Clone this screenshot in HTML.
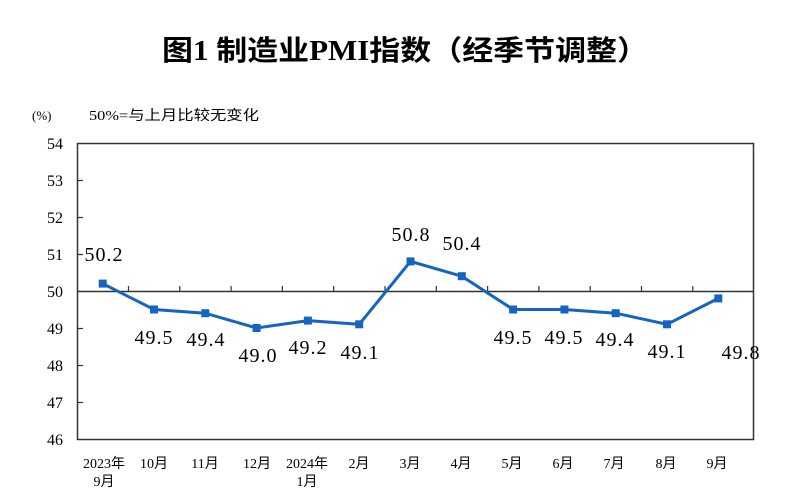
<!DOCTYPE html>
<html><head><meta charset="utf-8"><style>
html,body{margin:0;padding:0;background:#fff;}
svg{display:block;}
</style></head><body>
<svg width="800" height="504" xmlns="http://www.w3.org/2000/svg">
<rect width="800" height="504" fill="#fff"/>
<text x="162" y="60" font-family="'Liberation Serif','Noto Sans CJK SC',serif" font-weight="bold" font-size="28" textLength="486" lengthAdjust="spacingAndGlyphs" fill="#000">图1 制造业PMI指数（经季节调整）</text>
<text x="32" y="120" font-family="'Liberation Serif','Noto Sans CJK SC',serif" font-size="13" fill="#000">(%)</text>
<text x="89" y="120" font-family="'Liberation Serif','Noto Sans CJK SC',serif" font-size="14" textLength="170" lengthAdjust="spacingAndGlyphs" fill="#000">50%=与上月比较无变化</text>
<g font-family="'Liberation Serif',serif" font-size="16" fill="#000" text-anchor="end">
<text x="63" y="149">54</text><text x="63" y="186">53</text><text x="63" y="223">52</text><text x="63" y="260">51</text><text x="63" y="297">50</text><text x="63" y="334">49</text><text x="63" y="371">48</text><text x="63" y="408">47</text><text x="63" y="445">46</text>
</g>
<rect x="77.5" y="143.5" width="676" height="296" fill="none" stroke="#333" stroke-width="1.5"/>
<line x1="77.5" y1="291.5" x2="753.5" y2="291.5" stroke="#333" stroke-width="1.5"/>
<g stroke="#333" stroke-width="1.2">
<line x1="77.5" y1="180.5" x2="83" y2="180.5"/><line x1="77.5" y1="217.5" x2="83" y2="217.5"/><line x1="77.5" y1="254.5" x2="83" y2="254.5"/><line x1="77.5" y1="328.5" x2="83" y2="328.5"/><line x1="77.5" y1="365.5" x2="83" y2="365.5"/><line x1="77.5" y1="402.5" x2="83" y2="402.5"/>
<path d="M128.5 291v-5M179.8 291v-5M231.1 291v-5M282.4 291v-5M333.7 291v-5M385 291v-5M436.3 291v-5M487.6 291v-5M538.9 291v-5M590.2 291v-5M641.5 291v-5M692.8 291v-5"/>
</g>
<polyline fill="none" stroke="#1565c0" stroke-width="3" points="102.7,283.6 154,309.5 205.3,313.2 256.6,328 307.9,320.6 359.2,324.3 410.5,261.4 461.8,276.2 513.1,309.5 564.4,309.5 615.7,313.2 667,324.3 718.3,298.4"/>
<g fill="#1565c0">
<rect x="98.7" y="279.6" width="8" height="8"/><rect x="150" y="305.5" width="8" height="8"/><rect x="201.3" y="309.2" width="8" height="8"/><rect x="252.6" y="324" width="8" height="8"/><rect x="303.9" y="316.6" width="8" height="8"/><rect x="355.2" y="320.3" width="8" height="8"/><rect x="406.5" y="257.4" width="8" height="8"/><rect x="457.8" y="272.2" width="8" height="8"/><rect x="509.1" y="305.5" width="8" height="8"/><rect x="560.4" y="305.5" width="8" height="8"/><rect x="611.7" y="309.2" width="8" height="8"/><rect x="663" y="320.3" width="8" height="8"/><rect x="714.3" y="294.4" width="8" height="8"/>
</g>
<g font-family="'Liberation Serif',serif" font-size="20" letter-spacing="1" fill="#000" text-anchor="middle">
<text x="104" y="261">50.2</text><text x="154" y="344">49.5</text><text x="206" y="346">49.4</text><text x="258" y="362">49.0</text><text x="308" y="354">49.2</text><text x="360" y="359">49.1</text><text x="411" y="241">50.8</text><text x="462" y="250">50.4</text><text x="513" y="344">49.5</text><text x="564" y="344">49.5</text><text x="615" y="346">49.4</text><text x="667" y="358">49.1</text><text x="741" y="359">49.8</text>
</g>
<g font-family="'Liberation Serif','Noto Sans CJK SC',serif" font-size="14" fill="#000" text-anchor="middle">
<text x="104" y="468">2023年</text><text x="104" y="486">9月</text>
<text x="154" y="468">10月</text><text x="205" y="468">11月</text><text x="257" y="468">12月</text>
<text x="307" y="468">2024年</text><text x="307" y="486">1月</text>
<text x="359" y="468">2月</text><text x="410" y="468">3月</text><text x="461" y="468">4月</text><text x="512" y="468">5月</text><text x="563" y="468">6月</text><text x="614" y="468">7月</text><text x="666" y="468">8月</text><text x="717" y="468">9月</text>
</g>
</svg>
</body></html>
